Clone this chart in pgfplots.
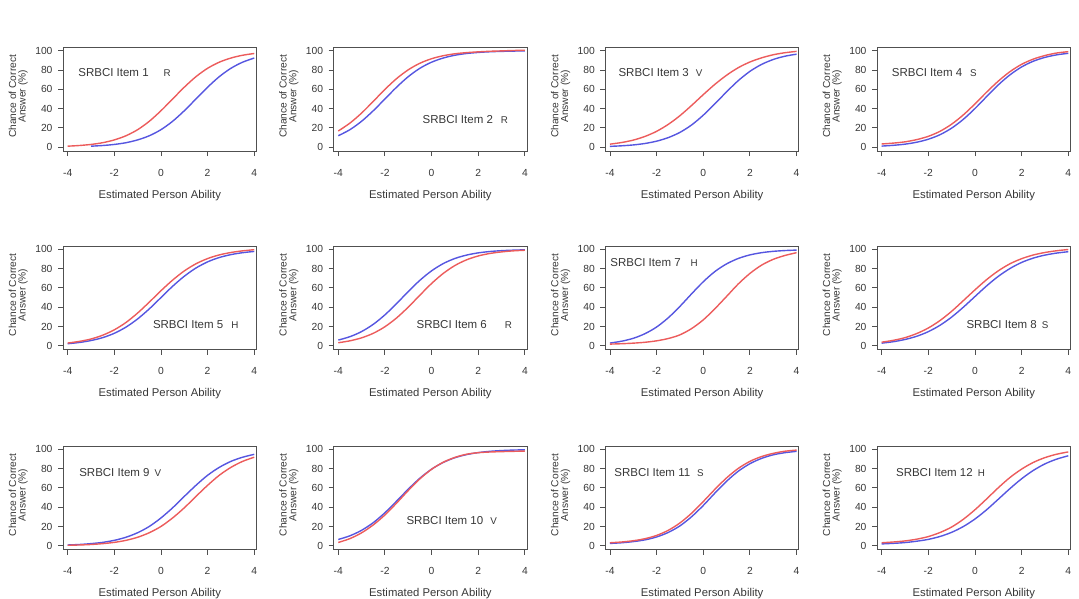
\documentclass[border=0pt]{standalone}
\usepackage{fontspec}
\setmainfont{Liberation Sans}
\usepackage{pgfplots}
\usepackage{pgfplotstable}
\pgfplotsset{compat=1.18}

\definecolor{cred}{RGB}{236,92,92}
\definecolor{cblue}{RGB}{86,86,224}
\definecolor{txt}{RGB}{55,55,55}
\definecolor{frm}{RGB}{80,80,80}

% x = estimated ability, b = blue curve, r = red curve (percent correct)
\pgfplotstableread{
x b r
-4 nan 1.1
-3.5 nan 1.8
-3 1.1 2.9
-2.5 1.8 4.7
-2 2.9 7.6
-1.5 4.7 11.9
-1 7.6 18.2
-0.5 11.9 26.9
0 18.2 37.8
0.5 26.9 50
1 37.8 62.2
1.5 50 73.1
2 62.2 81.8
2.5 73.1 88.1
3 81.8 92.4
3.5 88.1 95.3
4 92.4 97.1
}\itemA
\pgfplotstableread{
x b r
-4 11.9 16.8
-3.5 18.2 25
-3 26.9 35.4
-2.5 37.8 47.5
-2 50 59.9
-1.5 62.2 71.1
-1 73.1 80.2
-0.5 81.8 87
0 88.1 91.7
0.5 92.4 94.8
1 95.3 96.8
1.5 97.1 98
2 98.2 98.8
2.5 98.9 99.4
3 99.3 99.8
3.5 99.6 100.2
4 99.8 100.5
}\itemB
\pgfplotstableread{
x b r
-4 0.9 3.2
-3.5 1.5 4.9
-3 2.4 7.4
-2.5 3.9 11.2
-2 6.3 16.5
-1.5 10 23.7
-1 15.4 32.7
-0.5 23.1 43.3
0 33.2 54.5
0.5 45 65.2
1 57.4 74.6
1.5 69 82.4
2 78.6 88.3
2.5 85.8 92.6
3 90.9 95.8
3.5 94.3 97.9
4 96.4 99.3
}\itemC
\pgfplotstableread{
x b r
-4 1.2 3.4
-3.5 2.0 4.3
-3 3.2 5.6
-2.5 5.2 7.9
-2 8.3 11.3
-1.5 13 16.5
-1 19.8 23.9
-0.5 28.9 33.5
0 40.1 44.9
0.5 52.5 57.1
1 64.6 68.5
1.5 75 78.3
2 83.2 85.9
2.5 89.1 91.3
3 93.1 95
3.5 95.7 97.6
4 97.3 99
}\itemD
\pgfplotstableread{
x b r
-4 2.2 2.9
-3.5 3.5 4.6
-3 5.5 7.1
-2.5 8.5 11
-2 13 16.6
-1.5 19.4 24.2
-1 27.9 34
-0.5 38.3 45.3
0 50 57.1
0.5 61.7 68.1
1 72.1 77.6
1.5 80.6 85
2 87 90.4
2.5 91.5 94.2
3 94.5 96.7
3.5 96.5 98.4
4 97.8 99.6
}\itemE
\pgfplotstableread{
x b r
-4 6.0 3.2
-3.5 9.5 5.2
-3 14.8 8.3
-2.5 22.3 13
-2 32.1 19.8
-1.5 43.8 28.9
-1 56.2 40.1
-0.5 67.9 52.5
0 77.7 64.6
0.5 85.2 75
1 90.5 83.2
1.5 94 89.1
2 96.3 93.1
2.5 97.7 95.7
3 98.6 97.3
3.5 99.1 98.4
4 99.5 99
}\itemF
\pgfplotstableread{
x b r
-4 2.9 1.8
-3.5 4.8 2.2
-3 7.8 2.8
-2.5 12.6 3.7
-2 19.5 5.2
-1.5 29.1 7.6
-1 40.9 11.4
-0.5 53.9 17.9
0 66.4 26.9
0.5 77 38.5
1 84.9 51.2
1.5 90.5 64.1
2 94.2 75
2.5 96.5 83.6
3 97.9 89.6
3.5 98.7 93.6
4 99.2 96.5
}\itemG
\pgfplotstableread{
x b r
-4 2.8 3.8
-3.5 4.3 5.7
-3 6.6 8.5
-2.5 9.9 12.7
-2 14.7 18.5
-1.5 21.3 26.2
-1 29.8 35.8
-0.5 40 46.8
0 51.1 58
0.5 62.1 68.6
1 72 77.7
1.5 80.1 85
2 86.4 90.3
2.5 90.9 94.1
3 94 96.7
3.5 96.1 98.5
4 97.5 99.8
}\itemH
\pgfplotstableread{
x b r
-4 0.9 0.6
-3.5 1.4 0.9
-3 2.3 1.4
-2.5 3.6 2.3
-2 5.7 3.6
-1.5 8.9 5.7
-1 13.6 8.9
-0.5 20.1 13.6
0 28.9 20.1
0.5 39.4 28.9
1 51.2 39.4
1.5 62.7 51.2
2 73.1 62.7
2.5 81.3 73.1
3 87.5 81.3
3.5 91.8 87.5
4 94.8 91.8
}\itemI
\pgfplotstableread{
x b r
-4 6.6 3.5
-3.5 10.4 7.5
-3 16.1 13.5
-2.5 24 21.7
-2 34.3 32
-1.5 46.3 44.3
-1 58.7 57.3
-0.5 70.1 69.4
0 79.4 79.3
0.5 86.4 86.6
1 91.3 91.6
1.5 94.5 94.9
2 96.6 96.5
2.5 97.9 97.2
3 98.7 97.6
3.5 99.2 97.9
4 99.5 98.2
}\itemJ
\pgfplotstableread{
x b r
-4 2.5 3.2
-3.5 3.2 4.0
-3 4.4 5.3
-2.5 6.2 7.4
-2 9.2 10.8
-1.5 13.9 16.1
-1 20.7 23.7
-0.5 30.2 33.8
0 41.8 45.9
0.5 54.7 58.6
1 66.9 70.4
1.5 77.3 80.2
2 85.1 87.5
2.5 90.6 92.5
3 94.3 95.8
3.5 96.5 98
4 97.9 99.2
}\itemK
\pgfplotstableread{
x b r
-4 2.0 3.2
-3.5 2.6 4.0
-3 3.4 5.1
-2.5 4.8 6.9
-2 6.7 9.6
-1.5 9.7 13.8
-1 14 19.5
-0.5 20 27.5
0 27.8 37.4
0.5 37.4 48.6
1 48.3 60.2
1.5 59.3 70.8
2 69.5 79.5
2.5 78.1 86.4
3 84.9 91.4
3.5 89.8 94.9
4 93.3 97.3
}\itemL

\pgfplotsset{
  panel/.style={
    scale only axis, width=193.6pt, height=103.3pt,
    anchor=north west,
    xmin=-4.2, xmax=4.1, ymin=-4, ymax=103,
    xtick={-4,-2,0,2,4}, xticklabels={-4,-2,0,2,4},
    ytick={0,20,40,60,80,100}, yticklabels={0,20,40,60,80,100},
    tick align=outside, major tick length=5pt, tick pos=left,
    axis line style={frm, line width=0.9pt},
    every tick/.style={frm, line width=0.9pt},
    ticklabel style={txt, font=\fontsize{10.3}{12}\selectfont},
    xticklabel shift=9.5pt,
    yticklabel shift=2pt,
    xlabel={Estimated Person Ability},
    xlabel style={txt, font=\fontsize{11.3}{13}\selectfont,
      at={(axis description cs:0.5,-0.427)}, anchor=center},
    ylabel={Chance of Correct\\Answer (\%)},
    ylabel style={txt, align=center, font=\fontsize{10.2}{9.6}\selectfont,
      at={(axis description cs:-0.231,0.53)}, anchor=center},
    every axis plot/.append style={line width=1.4pt, smooth, no markers},
  },
}

% #1,#2 frame corner, #3 table, #4 item, #5 letter, #6,#7 title position, #8 gap
\newcommand{\panel}[8]{%
  \begin{axis}[panel, at={(#1pt,-#2pt)}]
    \addplot[cblue] table[x=x, y=b] {#3};
    \addplot[cred] table[x=x, y=r] {#3};
    \node[anchor=west, txt, inner sep=0pt] at (axis cs:#6,#7)
      {\fontsize{11.5}{13}\selectfont SRBCI Item #4\hspace{#8pt}{\fontsize{9.8}{11}\selectfont #5}};
  \end{axis}}

\begin{document}
\begin{tikzpicture}
\path[use as bounding box] (0,0) rectangle (1079pt,-598pt);
\panel{63}{47.8}{\itemA}{1}{R}{-3.55}{77}{15}
\panel{333.6}{47.8}{\itemB}{2}{R}{-0.39}{28.5}{8}
\panel{605.3}{47.8}{\itemC}{3}{V}{-3.64}{77}{7}
\panel{877}{47.8}{\itemD}{4}{S}{-3.57}{77}{8}
\panel{63}{246.4}{\itemE}{5}{H}{-0.35}{22}{8}
\panel{333.6}{246.4}{\itemF}{6}{R}{-0.65}{22}{18}
\panel{605.3}{246.4}{\itemG}{7}{H}{-3.99}{86.5}{10}
\panel{877}{246.4}{\itemH}{8}{S}{-0.37}{22}{5}
\panel{63}{446.4}{\itemI}{9}{V}{-3.51}{75.6}{5}
\panel{333.6}{446.4}{\itemJ}{10}{V}{-1.08}{26}{7}
\panel{605.3}{446.4}{\itemK}{11}{S}{-3.82}{76}{7}
\panel{877}{446.4}{\itemL}{12}{H}{-3.39}{76}{5}
\end{tikzpicture}
\end{document}
